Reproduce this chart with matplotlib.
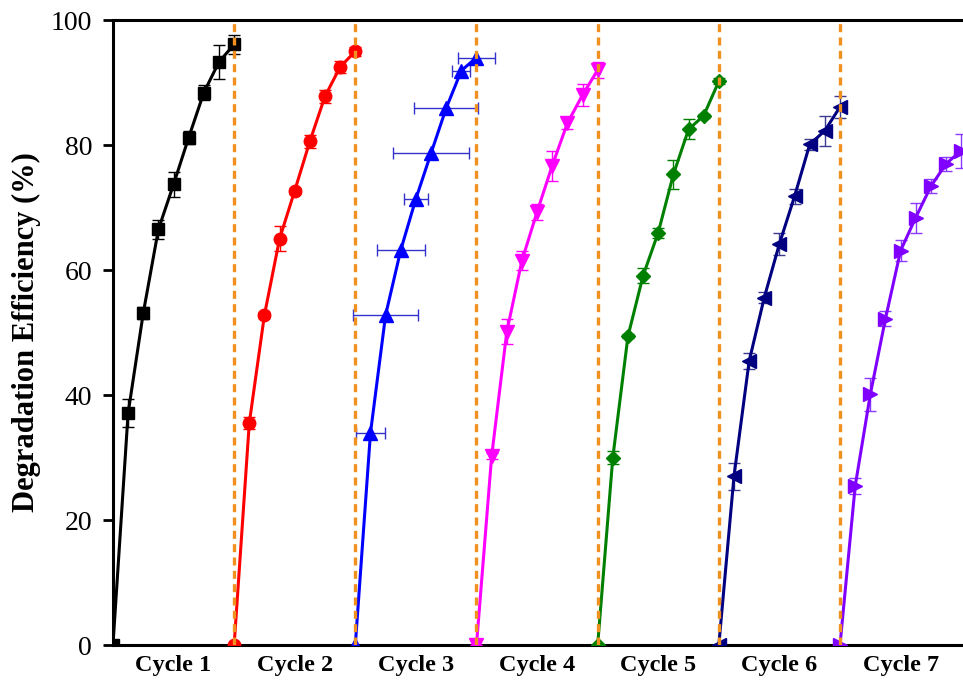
import numpy as np
import matplotlib
matplotlib.use("Agg")
import matplotlib.pyplot as plt

# ========== Data ==========
cycle_labels = ["Cycle 1", "Cycle 2", "Cycle 3", "Cycle 4", "Cycle 5", "Cycle 6", "Cycle 7"]
steps = [0, 1, 2, 3, 4, 5, 6, 7, 8]   # sampling points within one cycle
cycle_len = 8

c1 = [0, 37.1, 53.1, 66.5, 73.7, 81.2, 88.4, 93.3, 96.1]
c2 = [0, 35.5, 52.8, 65.0, 72.7, 80.6, 87.8, 92.5, 95.0]
c3 = [0, 33.9, 52.8, 63.2, 71.4, 78.7, 85.9, 91.9, 94.0]
c4 = [0, 30.2, 50.1, 61.5, 69.3, 76.7, 83.5, 88.0, 92.0]
c5 = [0, 30.0, 49.4, 59.1, 66.0, 75.3, 82.5, 84.7, 90.2]
c6 = [0, 27.0, 45.4, 55.6, 64.2, 71.8, 80.1, 82.3, 86.1]
c7 = [0, 25.4, 40.1, 52.2, 63.1, 68.4, 73.4, 77.0, 79.1]

e1 = [0, 2.2, 1.0, 1.5, 2.0, 1.0, 1.2, 2.7, 1.5]
e2 = [0, 1.0, 0.5, 2.0, 0.5, 1.0, 1.0, 1.0, 0.7]
e3_x = [0, 0.93, 2.15, 1.6, 0.77, 2.5, 2.1, 0.6, 1.2]   # cycle 3 has horizontal bars
e4 = [0, 0.5, 2.0, 1.5, 1.3, 2.4, 1.0, 1.8, 1.3]
e5 = [0, 1.1, 0.3, 1.2, 0.8, 2.3, 1.6, 0.3, 0.5]
e6 = [0, 2.2, 1.3, 0.9, 1.8, 1.2, 0.9, 2.4, 1.7]
e7 = [0, 1.3, 2.7, 1.2, 1.7, 2.4, 1.15, 1.1, 2.7]

# ========== Plot Settings ==========
plt.rcParams["font.family"] = ["Liberation Serif", "DejaVu Serif"]

fig = plt.figure(figsize=(9.63, 6.84), dpi=100)
ax = fig.add_axes([0.1173, 0.057, 0.9107, 0.9137])

series = [
    (c1, e1, None, "black", "black", "s", 8),
    (c2, e2, None, "#ff0000", "#ff0000", "o", 9),
    (c3, None, e3_x, "#0000ff", "#3333cc", "^", 9.5),
    (c4, e4, None, "#ff00ff", "#ff00ff", "v", 9.5),
    (c5, e5, None, "#008000", "#008000", "D", 7.5),
    (c6, e6, None, "#000080", "#3a3a90", "<", 9.5),
    (c7, e7, None, "#8000ff", "#8a3aff", ">", 9.5),
]

for i, (ys, yerr, xerr, col, ecol, mk, ms) in enumerate(series):
    xs = [i * cycle_len + s for s in steps]
    ax.errorbar(xs, ys, yerr=yerr, xerr=xerr, color=col, ecolor=ecol,
                marker=mk, markersize=ms, linewidth=2.2, elinewidth=1,
                capsize=4, capthick=1, zorder=3)

# cycle separators
for k in range(1, 7):
    ax.axvline(k * cycle_len, color="#f0901e", linestyle=(0, (2.4, 1.6)),
               linewidth=2.4, zorder=5)

ax.set_xlim(0, 57.9)
ax.set_ylim(0, 100)
ax.set_yticks([0, 20, 40, 60, 80, 100])
ax.set_xticks([i * cycle_len + cycle_len / 2 for i in range(7)])
ax.set_xticklabels(cycle_labels, fontsize=17.5, fontweight="bold")
ax.tick_params(axis="x", length=0, pad=7)
ax.tick_params(axis="y", direction="out", length=7, width=2, labelsize=20, pad=8)
ax.set_ylabel("Degradation Efficiency (%)", fontsize=22, fontweight="bold", labelpad=7)

for side in ["left", "bottom", "top"]:
    ax.spines[side].set_linewidth(2.2)
ax.spines["right"].set_visible(False)

fig.savefig("out.png", dpi=100)
